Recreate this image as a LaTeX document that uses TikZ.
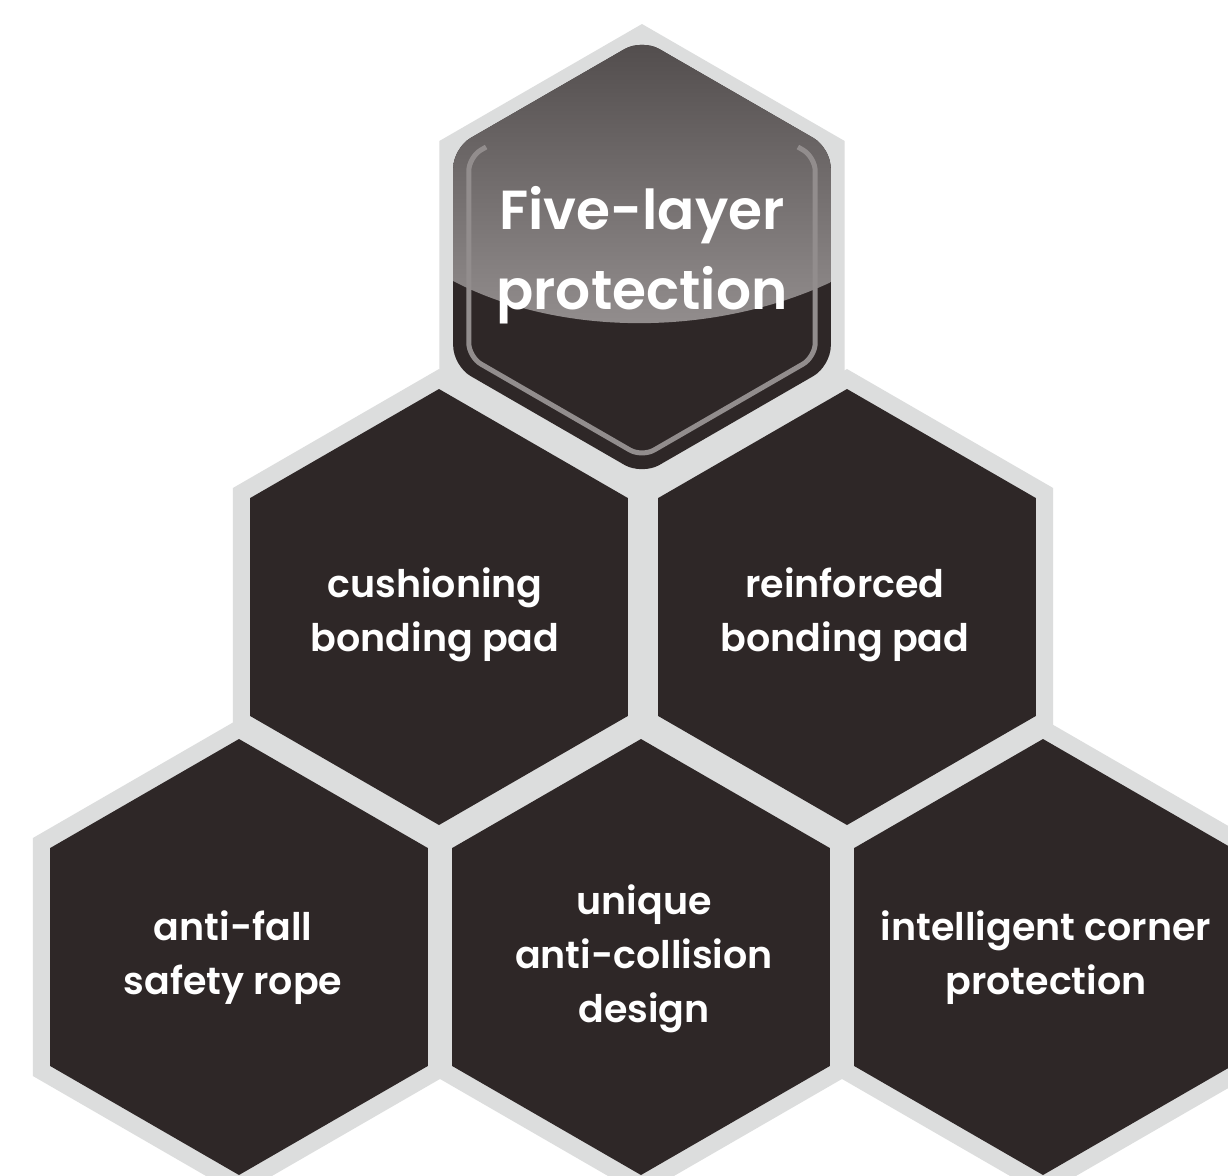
\documentclass[tikz,border=0pt]{standalone}
\usepackage{fontspec}
\setmainfont{Poppins}
\newfontfamily\hexfont{Poppins SemiBold}
\usetikzlibrary{calc}
\definecolor{ltg}{HTML}{DCDDDD}
\definecolor{dk}{HTML}{2E2727}
\definecolor{glosstop}{HTML}{4D4848}
\definecolor{glossbot}{HTML}{989393}
\definecolor{bevel}{HTML}{928D8D}
\tikzset{
  rim/.style={fill=ltg},
  cell/.style={fill=dk},
  label/.style={text=white, align=center, inner sep=0pt,
    font=\hexfont\fontsize{19}{27}\selectfont},
  title/.style={text=white, align=center, inner sep=0pt,
    font=\hexfont\fontsize{27.5}{40}\selectfont},
}
\newcommand\hexshape[3]{[shift={(#1,#2)}] (30:#3) -- (90:#3) -- (150:#3) -- (210:#3) -- (270:#3) -- (330:#3) -- cycle}
\begin{document}
\begin{tikzpicture}[x=0.5pt,y=-0.5pt]
\clip (0,0) rectangle (1228,1175);
\fill[white] (0,0) rectangle (1228,1175);
% grey rims
\fill[rim] \hexshape{642}{258}{234};
\foreach \cx/\cy in {439/607,847/607,239/957,641/957,1043/957}
  \fill[rim] \hexshape{\cx}{\cy}{238};
% dark cells
\foreach \cx/\cy in {439/607,847/607,239/957,641/957,1043/957}
  \fill[cell] \hexshape{\cx}{\cy}{218};
% glossy top cell
\begin{scope}
  \clip[rounded corners=10pt] \hexshape{642}{257}{218};
  \fill[cell] (400,0) rectangle (900,500);
  \shade[top color=glosstop, bottom color=glossbot]
    (400,20) -- (900,20) -- (900,240)
    .. controls (760,350) and (520,350) .. (400,245) -- cycle;
\end{scope}
% bevel (y axis points down: 210/330 are the upper corners)
\draw[bevel, line width=2.5pt, rounded corners=7pt, shift={(642,257)}]
  ($(210:200)!0.1!(270:200)$) -- (210:200) -- (150:200) -- (90:200) -- (30:200) -- (330:200) -- ($(330:200)!0.1!(270:200)$);
% texts
\node[title] (top) at (642,255) {Five-layer\\protection};
\node[label] (cush) at (435,615) {cushioning\\bonding pad};
\node[label] (reinf) at (845,615) {reinforced\\bonding pad};
\node[label] (fall) at (233,958) {anti-fall\\safety rope};
\node[label] (uniq) at (644,959) {unique\\anti-collision\\design};
\node[label] (corner) at (1046,958) {intelligent corner\\protection};
\end{tikzpicture}
\end{document}
